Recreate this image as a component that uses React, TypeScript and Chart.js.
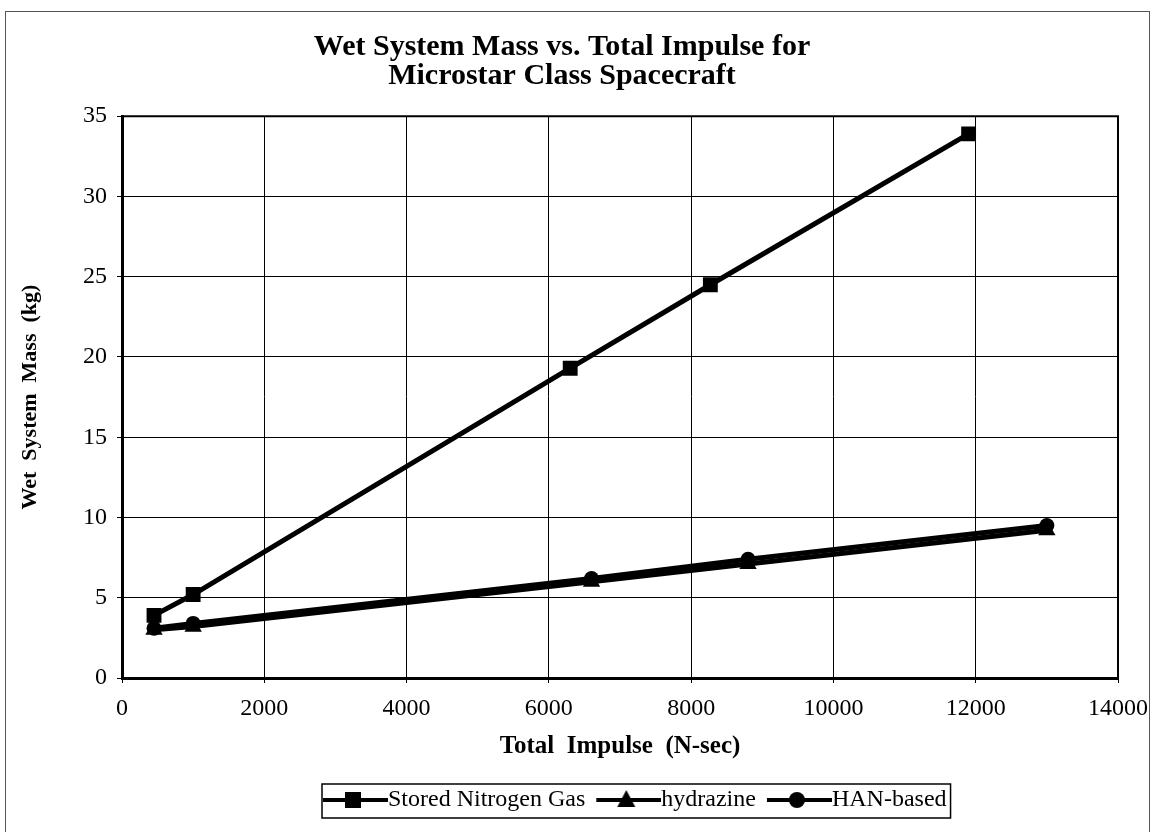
import React, { useEffect, useRef } from "react";
import { Chart, registerables } from "chart.js";

Chart.register(...registerables);

const titleLines = ["Wet System Mass vs. Total Impulse for", "Microstar Class Spacecraft"];
const xAxisTitle = "Total  Impulse  (N-sec)";
const yAxisTitle = "Wet  System  Mass  (kg)";

const seriesNames = ["Stored Nitrogen Gas", "hydrazine", "HAN-based"];
const seriesMarkers = ["rect", "triangle", "circle"];

const nitrogenX = [450, 1000, 6300, 8270, 11900];
const nitrogenY = [3.9, 5.2, 19.3, 24.5, 33.9];
const hydrazineX = [450, 1000, 6600, 8800, 13000];
const hydrazineY = [3.0, 3.2, 6.0, 7.1, 9.2];
const hanX = [450, 1000, 6600, 8800, 13000];
const hanY = [3.1, 3.4, 6.2, 7.4, 9.5];

const xTicks = [0, 2000, 4000, 6000, 8000, 10000, 12000, 14000];
const yTicks = [0, 5, 10, 15, 20, 25, 30, 35];

const FONT = "'Liberation Serif', 'Times New Roman', serif";

function toPoints(xs: number[], ys: number[]) {
  return xs.map((x, i) => ({ x, y: ys[i] }));
}

function legendIcon(marker: string): HTMLCanvasElement {
  const c = document.createElement("canvas");
  c.width = 77;
  c.height = 26;
  const ctx = c.getContext("2d")!;
  ctx.fillStyle = "#000";
  ctx.strokeStyle = "#000";
  ctx.lineWidth = 4;
  ctx.beginPath();
  ctx.moveTo(12, 13);
  ctx.lineTo(77, 13);
  ctx.stroke();
  const cx = 42;
  const cy = 13;
  ctx.beginPath();
  if (marker === "rect") {
    ctx.rect(cx - 8, cy - 8, 16, 16);
  } else if (marker === "triangle") {
    ctx.moveTo(cx, cy - 10);
    ctx.lineTo(cx + 9, cy + 7);
    ctx.lineTo(cx - 9, cy + 7);
    ctx.closePath();
  } else {
    ctx.arc(cx, cy, 8, 0, Math.PI * 2);
  }
  ctx.fill();
  return c;
}

const framePlugin = {
  id: "framePlugin",
  afterLayout(chart: any) {
    const lg = chart.legend;
    if (!lg || !lg.lineWidths) return;
    const pad = lg.options.labels.padding;
    const start = (lg.left + pad + lg.right - lg.lineWidths[0]) / 2;
    const d = 317 - start;
    lg.left += d;
    lg.right += d;
  },
  afterDraw(chart: any) {
    const ctx = chart.ctx;
    const a = chart.chartArea;
    ctx.save();
    ctx.strokeStyle = "#000";
    ctx.lineWidth = 2;
    ctx.beginPath();
    ctx.moveTo(a.left, a.top);
    ctx.lineTo(a.right, a.top);
    ctx.lineTo(a.right, a.bottom);
    ctx.stroke();
    const hb = chart.legend && chart.legend.legendHitBoxes;
    if (hb && hb.length) {
      const left = hb[0].left - 1;
      const last = hb[hb.length - 1];
      const right = last.left + last.width + 4;
      const top = hb[0].top - 4;
      ctx.lineWidth = 1.5;
      ctx.strokeRect(left, top, right - left, 34);
    }
    ctx.restore();
  },
};

export default function App() {
  const ref = useRef<HTMLCanvasElement | null>(null);

  useEffect(() => {
    if (!ref.current) return;
    const icons = seriesMarkers.map(legendIcon);
    const allX = [nitrogenX, hydrazineX, hanX];
    const allY = [nitrogenY, hydrazineY, hanY];
    const radii = [10.5, 10, 7.5];
    const chart = new Chart(ref.current, {
      type: "line",
      data: {
        datasets: seriesNames.map((name, i) => ({
          label: name,
          data: toPoints(allX[i], allY[i]),
          borderColor: "#000",
          backgroundColor: "#000",
          borderWidth: 5,
          pointStyle: seriesMarkers[i] as any,
          pointRadius: radii[i],
          pointBackgroundColor: "#000",
          pointBorderColor: "#000",
          pointBorderWidth: 0,
          tension: 0,
          fill: false,
        })),
      },
      options: {
        animation: false,
        responsive: true,
        maintainAspectRatio: false,
        layout: { padding: { left: 0, right: 31, top: 0, bottom: 10 } },
        plugins: {
          tooltip: { enabled: false },
          title: {
            display: true,
            text: titleLines,
            color: "#000",
            font: { family: FONT, size: 30, weight: "bold", lineHeight: 0.97 },
            padding: { top: 20.5, bottom: 25.5 },
          },
          legend: {
            display: true,
            position: "bottom",
            labels: {
              color: "#000",
              font: { family: FONT, size: 24 },
              usePointStyle: true,
              pointStyleWidth: 53,
              padding: 11,
              generateLabels: () =>
                seriesNames.map((name, i) => ({
                  text: name,
                  pointStyle: icons[i] as any,
                  fillStyle: "#000",
                  strokeStyle: "#000",
                  lineWidth: 0,
                  hidden: false,
                  datasetIndex: i,
                  fontColor: "#000",
                })),
            },
          },
        },
        scales: {
          x: {
            type: "linear",
            min: 0,
            max: 14000,
            afterFit: (s: any) => {
              s.height = 99;
              s.paddingRight = 0;
              s.paddingLeft = 0;
            },
            afterBuildTicks: (s: any) => {
              s.ticks = xTicks.map((v) => ({ value: v }));
            },
            ticks: {
              color: "#000",
              font: { family: FONT, size: 24 },
              padding: 11,
              maxRotation: 0,
              autoSkip: false,
              callback: (v: any) => String(v),
            },
            grid: { color: "#000", lineWidth: 1, tickLength: 5, drawTicks: true },
            border: { display: true, color: "#000", width: 3 },
            title: {
              display: true,
              text: xAxisTitle,
              color: "#000",
              font: { family: FONT, size: 25, weight: "bold" },
              padding: { top: 0, bottom: 15 },
            },
          },
          y: {
            type: "linear",
            min: 0,
            max: 35,
            afterFit: (s: any) => {
              s.width = 116;
            },
            afterBuildTicks: (s: any) => {
              s.ticks = yTicks.map((v) => ({ value: v }));
            },
            ticks: {
              color: "#000",
              font: { family: FONT, size: 24 },
              padding: 10,
              autoSkip: false,
              callback: (v: any) => String(v),
            },
            grid: { color: "#000", lineWidth: 1, tickLength: 5, drawTicks: true },
            border: { display: true, color: "#000", width: 3 },
            title: {
              display: true,
              text: yAxisTitle,
              color: "#000",
              font: { family: FONT, size: 22, weight: "bold" },
              padding: { top: 11, bottom: 0 },
            },
          },
        },
      },
      plugins: [framePlugin],
    });
    return () => chart.destroy();
  }, []);

  return (
    <div
      style={{
        position: "absolute",
        left: 5,
        top: 11,
        width: 1145,
        height: 821,
        border: "1px solid #555",
        borderBottom: "none",
        boxSizing: "border-box",
        background: "#fff",
      }}
    >
      <div style={{ position: "relative", width: "100%", height: "100%" }}>
        <canvas ref={ref} />
      </div>
    </div>
  );
}
